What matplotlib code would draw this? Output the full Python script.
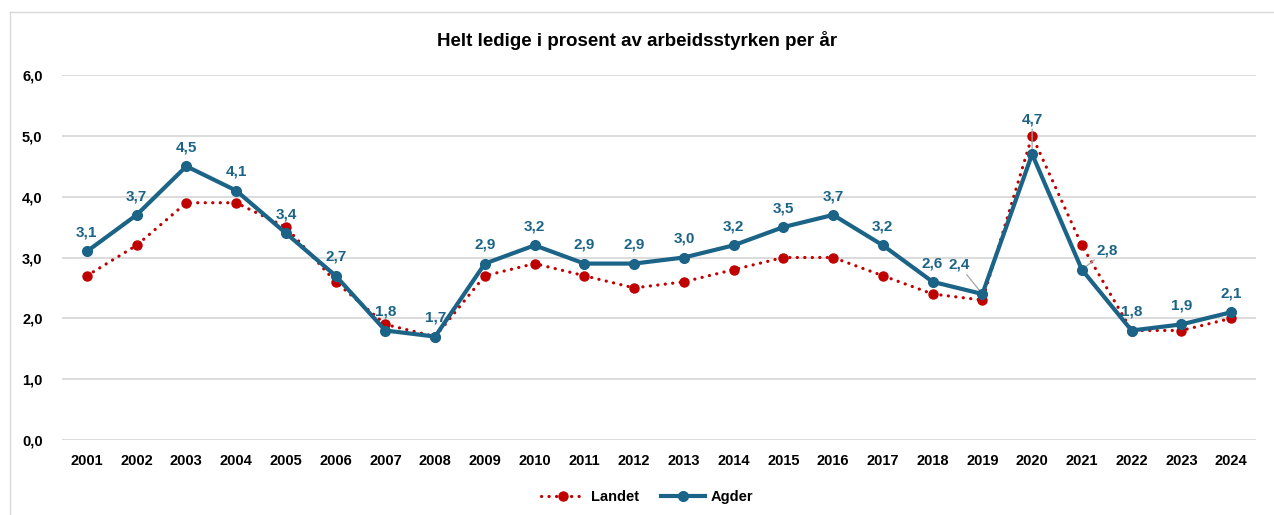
import matplotlib
matplotlib.use("Agg")
import matplotlib.pyplot as plt
from matplotlib.lines import Line2D

years = [str(y) for y in range(2001, 2025)]
landet = [2.7, 3.2, 3.9, 3.9, 3.5, 2.6, 1.9, 1.7, 2.7, 2.9, 2.7, 2.5, 2.6, 2.8,
          3.0, 3.0, 2.7, 2.4, 2.3, 5.0, 3.2, 1.8, 1.8, 2.0]
agder = [3.1, 3.7, 4.5, 4.1, 3.4, 2.7, 1.8, 1.7, 2.9, 3.2, 2.9, 2.9, 3.0, 3.2,
         3.5, 3.7, 3.2, 2.6, 2.4, 4.7, 2.8, 1.8, 1.9, 2.1]
yticks = [0, 1, 2, 3, 4, 5, 6]

plt.rcParams['font.family'] = ['Liberation Sans', 'DejaVu Sans']

W, H = 1274, 515
fig = plt.figure(figsize=(W / 100, H / 100), dpi=100)
ax = fig.add_axes([62 / W, (H - 440) / H, (1256 - 62) / W, (440 - 75) / H])

blue = '#1B6487'
red = '#C00000'
x = list(range(len(years)))
dots = (0, (0.05, 2.3))

ax.plot(x, landet, color=red, lw=2.3, ls=dots, dash_capstyle='round',
        marker='o', ms=6.5, mfc=red, mec=red, zorder=3)
ax.plot(x, agder, color=blue, lw=3.0, marker='o', ms=7, mfc=blue, mec=blue,
        solid_capstyle='round', zorder=4)

ax.set_xlim(-0.5, len(years) - 0.5)
ax.set_ylim(0, 6)
ax.set_yticks(yticks)
ax.set_yticklabels([f"{v:.1f}".replace('.', ',') for v in yticks],
                   fontsize=10.5, fontweight='bold')
ax.set_xticks(x)
ax.set_xticklabels(years, fontsize=10.5, fontweight='bold')
ax.tick_params(length=0, pad=10)
ax.tick_params(axis='y', pad=14)
ax.grid(axis='y', color='#D9D9D9', lw=1.3)
ax.set_axisbelow(True)
for s in ax.spines.values():
    s.set_visible(False)

# data labels
lab_kw = dict(textcoords='offset points', ha='center', va='bottom', fontsize=11,
              fontweight='bold', color=blue)
lead = dict(arrowstyle='-', color='#A6A6A6', lw=0.9, shrinkA=0, shrinkB=2)
for i, v in enumerate(agder):
    lab = f"{v:.1f}".replace('.', ',')
    if years[i] == '2019':
        ax.annotate(lab, (i, v), xytext=(-17, 16), arrowprops=lead, **lab_kw)
    elif years[i] == '2021':
        ax.annotate(lab, (i, v), xytext=(18, 9), arrowprops=lead, **lab_kw)
    elif years[i] == '2020':
        ax.annotate(lab, (i, v), xytext=(0, 20), arrowprops=lead, **lab_kw)
    else:
        ax.annotate(lab, (i, v), xytext=(0, 8.5), **lab_kw)

fig.text(0.5, (H - 40) / H, 'Helt ledige i prosent av arbeidsstyrken per år',
         ha='center', va='center', fontsize=13.5, fontweight='bold')

handles = [
    Line2D([0], [0], color=red, lw=2.3, ls=dots, dash_capstyle='round',
           marker='o', ms=6.5, mfc=red, mec=red),
    Line2D([0], [0], color=blue, lw=3.0, marker='o', ms=7, mfc=blue, mec=blue),
]
fig.legend(handles, ['Landet', 'Agder'], loc='center', bbox_to_anchor=(0.508, (H - 497) / H),
           ncol=2, frameon=False, prop={'weight': 'bold', 'size': 10.5},
           handlelength=3.0, columnspacing=1.5, handletextpad=0.4)

# chart border
fig.add_artist(Line2D([10 / W, 10 / W], [0, (H - 12) / H], color='#D9D9D9', lw=1,
                      transform=fig.transFigure))
fig.add_artist(Line2D([10 / W, 1], [(H - 12) / H, (H - 12) / H], color='#D9D9D9', lw=1,
                      transform=fig.transFigure))

fig.savefig('out.png', dpi=100)
